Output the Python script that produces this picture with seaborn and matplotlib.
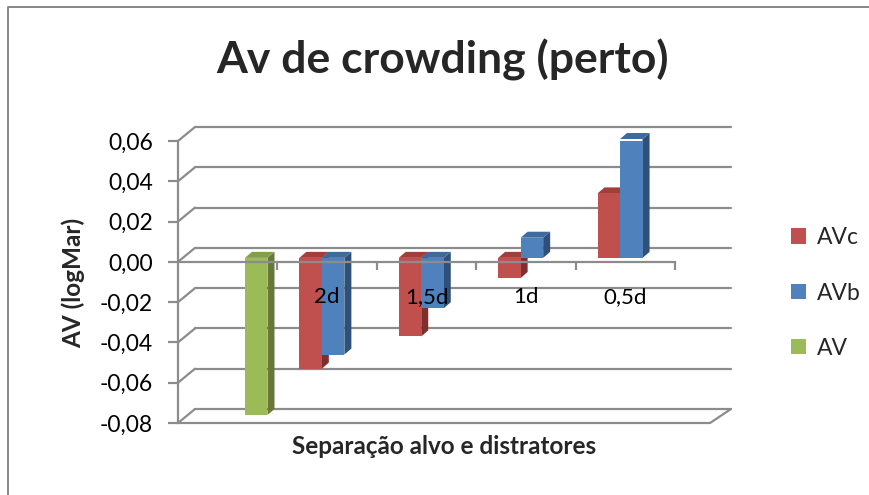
"""Av de crowding (perto) - grouped bars imitating an Excel 3D column chart."""

import matplotlib
matplotlib.use("Agg")
import matplotlib.pyplot as plt
import matplotlib.transforms as mtransforms
from matplotlib.lines import Line2D
from matplotlib.patches import Polygon
from matplotlib.colors import to_rgba
import numpy as np
import pandas as pd
import seaborn as sns

# data
categories = ["", "2d", "1,5d", "1d", "0,5d"]
series = ["AVc", "AVb", "AV"]
avc = [np.nan, -0.055, -0.039, -0.010, 0.032]
avb = [np.nan, -0.048, -0.025, 0.010, 0.059]
av = [-0.078, np.nan, np.nan, np.nan, np.nan]
y_ticks = [-0.08, -0.06, -0.04, -0.02, 0.00, 0.02, 0.04, 0.06]

front = {"AVc": "#C0504D", "AVb": "#4F81BD", "AV": "#9BBB59"}
side = {"AVc": "#7F302E", "AVb": "#2F5079", "AV": "#66793A"}
top = {"AVc": "#A13F3C", "AVb": "#3E6A9E", "AV": "#849F4B"}
GRID = "#8C8C8C"

sns.set_theme(style="white")
plt.rcParams["font.family"] = ["Lato", "DejaVu Sans"]

df = pd.DataFrame({
    "cat": categories * 3,
    "serie": np.repeat(series, len(categories)),
    "valor": avc + avb + av,
}).dropna()

W, H = 870, 495
fig = plt.figure(figsize=(W / 100, H / 100), dpi=100)
ax = fig.add_axes([178 / W, 1 - 423 / H, (675 - 178) / W, (423 - 141) / H])

sns.barplot(data=df, x="cat", y="valor", hue="serie", order=categories,
            hue_order=series, palette=front, width=0.68, errorbar=None,
            saturation=1, ax=ax, zorder=3, linewidth=0)

ax.set_xlim(-0.5, len(categories) - 0.5)
ax.set_ylim(y_ticks[0], y_ticks[-1])
ax.set_yticks(y_ticks)
ax.set_yticklabels([f"{v:.2f}".replace(".", ",") for v in y_ticks])

# spines / ticks
for s in ["top", "right"]:
    ax.spines[s].set_visible(False)
ax.spines["bottom"].set_position(("data", 0))
ax.spines["bottom"].set_zorder(4)
for s in ["bottom", "left"]:
    ax.spines[s].set_color(GRID)
    ax.spines[s].set_linewidth(1.6)
ax.xaxis.set_zorder(5)
ax.set_xticks(np.arange(len(categories)))
ax.set_xticklabels(categories)
ax.set_xticks(np.arange(len(categories)) + 0.5, minor=True)
ax.tick_params(axis="x", which="major", length=0, pad=18, labelsize=16, colors="black")
ax.tick_params(axis="x", which="minor", length=6, width=1.6, color=GRID, direction="out", bottom=True)
ax.tick_params(axis="y", length=7, width=1.6, color=GRID, direction="out", left=True,
               pad=11, labelsize=16.5, labelcolor="black")
ax.set_xlabel("")
ax.set_ylabel("")

# 3D look: front faces shifted back a bit, plus side and top faces
off = mtransforms.ScaledTranslation(6 / 100, 4 / 100, fig.dpi_scale_trans)
dx, dy = 7, 6
ident = mtransforms.IdentityTransform()
rgba_to_serie = {to_rgba(c): s for s, c in front.items()}
for p in list(ax.patches):
    s = rgba_to_serie.get(tuple(p.get_facecolor()))
    if s is None:
        continue
    p.set_transform(ax.transData + off)
    x0, y0 = p.get_x(), p.get_y()
    x1, y1 = x0 + p.get_width(), y0 + p.get_height()
    (X0, Y0), (X1, Y1) = (ax.transData + off).transform([(x0, min(y0, y1)), (x1, max(y0, y1))])
    ax.add_artist(Polygon([(X1, Y0), (X1 + dx, Y0 + dy), (X1 + dx, Y1 + dy), (X1, Y1)],
                          closed=True, facecolor=side[s], edgecolor="none",
                          transform=ident, zorder=2.8, clip_on=False))
    ax.add_artist(Polygon([(X0, Y1), (X1, Y1), (X1 + dx, Y1 + dy), (X0 + dx, Y1 + dy)],
                          closed=True, facecolor=top[s], edgecolor="none",
                          transform=ident, zorder=2.8, clip_on=False))

# back wall gridlines and left wall diagonals
bx, by = 17, 14
for v in y_ticks:
    Y = ax.transData.transform((0, v))[1]
    ax.add_artist(Line2D([195, 731], [Y + by, Y + by], color=GRID, lw=1.6,
                         transform=ident, zorder=1, clip_on=False))
    ax.add_artist(Line2D([178, 178 + bx], [Y, Y + by], color=GRID, lw=1.6,
                         transform=ident, zorder=1, clip_on=False))
# floor front edge
Yb = ax.transData.transform((0, y_ticks[0]))[1]
ax.add_artist(Line2D([178, 710, 731], [Yb, Yb, Yb + by], color=GRID, lw=1.6,
                     transform=ident, zorder=1, clip_on=False))

# legend
handles, labels = ax.get_legend_handles_labels()
ax.legend(handles, labels, loc="center left", bbox_to_anchor=(770 / W, 1 - 293 / H),
          bbox_transform=fig.transFigure, frameon=False, fontsize=16.5,
          handlelength=0.65, handleheight=0.65, handletextpad=0.5, labelspacing=1.5)

# titles
fig.text(443 / W, 1 - 60 / H, "Av de crowding (perto)", ha="center", va="center",
         fontsize=32, fontweight="bold")
fig.text(73 / W, 1 - 283 / H, "AV (logMar)", ha="center", va="center", rotation=90,
         fontsize=17.5, fontweight="bold")
fig.text(444 / W, 1 - 447 / H, "Separação alvo e distratores", ha="center", va="center",
         fontsize=17.5, fontweight="bold")

# outer chart border (left and top visible)
fig.add_artist(Line2D([8, 8, W + 5], [-5, H - 7, H - 7], color="#878787", lw=1.4,
                      transform=ident))

fig.savefig("out.png", dpi=100)
